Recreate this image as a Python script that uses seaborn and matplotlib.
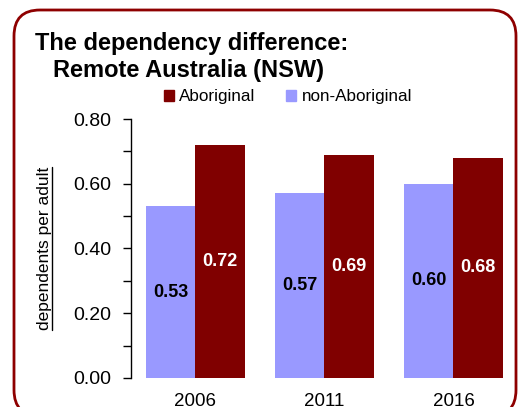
import matplotlib
matplotlib.use("Agg")
import matplotlib.pyplot as plt
import seaborn as sns
import pandas as pd
from matplotlib.patches import FancyBboxPatch, Patch
from matplotlib.lines import Line2D
from matplotlib.ticker import MultipleLocator

# Data
years = ["2006", "2011", "2016"]
aboriginal = [0.72, 0.69, 0.68]
non_aboriginal = [0.53, 0.57, 0.60]
groups = ["non-Aboriginal", "Aboriginal"]
colors = {"non-Aboriginal": "#9999FF", "Aboriginal": "#800000"}

df = pd.DataFrame({
    "Year": years * 2,
    "Group": ["non-Aboriginal"] * 3 + ["Aboriginal"] * 3,
    "Value": non_aboriginal + aboriginal,
})

sns.set_style("white")
plt.rcParams["font.family"] = ["Liberation Sans", "DejaVu Sans"]
plt.rcParams["text.color"] = "black"
plt.rcParams["axes.labelcolor"] = "black"
plt.rcParams["xtick.color"] = "black"
plt.rcParams["ytick.color"] = "black"

fig = plt.figure(figsize=(5.28, 4.07), dpi=100)
ax = fig.add_axes([0.248, 0.0713, 0.733, 0.6363])

sns.barplot(data=df, x="Year", y="Value", hue="Group", hue_order=groups,
            palette=colors, width=0.77, saturation=1, legend=False, ax=ax,
            edgecolor="none", linewidth=0)

# value labels in the middle of each bar
label_colors = ["black", "white"]
for cont, c in zip(ax.containers, label_colors):
    ax.bar_label(cont, fmt="%.2f", label_type="center", color=c,
                 fontweight="bold", fontsize=13)

ax.set_ylim(0, 0.8)
ax.set_xlim(-0.5, 2.5)
ax.yaxis.set_major_locator(MultipleLocator(0.2))
ax.yaxis.set_minor_locator(MultipleLocator(0.1))
ax.yaxis.set_major_formatter(matplotlib.ticker.FormatStrFormatter("%.2f"))
ax.tick_params(axis="y", which="both", left=True, length=6, width=1,
               color="black", labelsize=14, pad=8)
ax.tick_params(axis="x", length=0, labelsize=13.5, pad=11)
for side in ["top", "right", "bottom"]:
    ax.spines[side].set_visible(False)
ax.spines["left"].set_color("black")
ax.spines["left"].set_linewidth(1)
ax.set_xlabel("")
ax.set_ylabel("dependents per adult", fontsize=12.5)
ax.yaxis.set_label_coords(-0.205, 0.5)

# legend, Aboriginal first
handles = [Patch(color=colors["Aboriginal"]), Patch(color=colors["non-Aboriginal"])]
fig.legend(handles, ["Aboriginal", "non-Aboriginal"], loc="center",
           bbox_to_anchor=(0.545, 0.762), ncol=2, frameon=False,
           fontsize=12.3, handlelength=0.6, handleheight=0.6,
           handletextpad=0.3, columnspacing=1.8)

# title
fig.text(35 / 528, 1 - 50 / 407, "The dependency difference:",
         fontsize=17, fontweight="bold", ha="left", va="baseline")
fig.text(53 / 528, 1 - 77 / 407, "Remote Australia (NSW)",
         fontsize=17, fontweight="bold", ha="left", va="baseline")

# rounded border
border = FancyBboxPatch((14, -9), 502, 406, boxstyle="round,pad=0,rounding_size=26",
                        transform=None, facecolor="none", edgecolor="#8E0000",
                        linewidth=2, clip_on=False)
fig.add_artist(border)

# underline the y label
fig.canvas.draw()
bb = ax.yaxis.label.get_window_extent()
fig.add_artist(Line2D([bb.x1, bb.x1], [bb.y0, bb.y1], transform=None,
                      color="black", linewidth=1))

fig.savefig("out.png", dpi=100)
